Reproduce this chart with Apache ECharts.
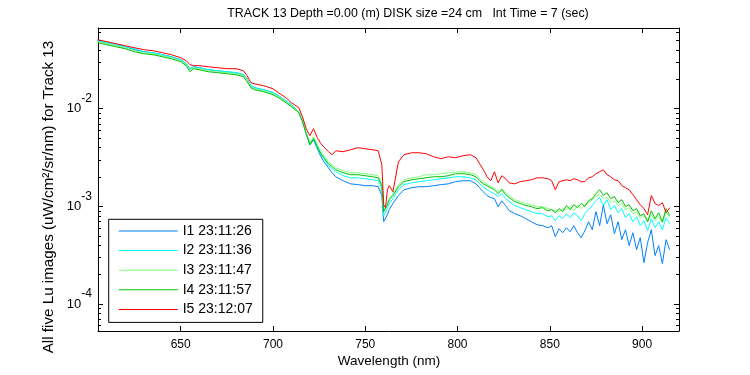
<!DOCTYPE html>
<html>
<head>
<meta charset="utf-8">
<script src="https://cdn.jsdelivr.net/npm/echarts@6/dist/echarts.min.js"></script>
<style>
html,body{margin:0;padding:0;background:#fff;}
#chart{width:750px;height:375px;}
</style>
</head>
<body>
<div id="chart"></div>
<script>
const wavelengths = [605,610,615,620,625,630,635,640,645,650,653,655,657,660,665,670,675,680,684,686,688,690,695,700,703,707,710,714,716,718,720,722,724,726,728,730,732,734,738,742,746,750,754,757,759,760,761,762,763,765,768,771,775,779,783,787,791,795,799,803,807,810,812,814,816,818,820,822,824,826,828,831,834,837,840,843,846,849,851,853,855,857,859,861,863,865,867,869,871,873,875,877,879,881,883,885,887,889,891,893,895,897,899,901,903,905,907,909,911,913,915];

const I1 = [0.0497,0.0474,0.0452,0.0431,0.0402,0.0383,0.0375,0.0357,0.0341,0.0318,
0.0289,0.0257,0.0269,0.0263,0.0251,0.0245,0.0239,0.0234,0.0223,0.0203,
0.0172,0.0164,0.01566,0.01459,0.01359,0.01207,0.01099,0.00932,0.00754,0.00555,
0.00428,0.00482,0.00389,0.00322,0.00280,0.00249,0.00221,0.00201,0.00183,0.00170,
0.00167,0.00163,0.00163,0.00159,0.00129,0.000696,0.000664,0.000821,0.000924,0.00107,
0.00129,0.00148,0.00155,0.00159,0.00159,0.00163,0.00167,0.00170,0.00179,0.00183,
0.00183,0.00170,0.00155,0.00141,0.00129,0.00123,0.00120,0.000994,0.00114,0.00102,
0.000903,0.000841,0.000802,0.000747,0.000696,0.000649,0.000634,0.000604,0.000634,0.000489,
0.000590,0.000537,0.000604,0.000550,0.000634,0.000537,0.000478,0.000563,0.000696,0.000577,
0.000882,0.000634,0.00104,0.000664,0.000821,0.000525,0.000696,0.000456,0.000577,0.000396,
0.000537,0.000360,0.000478,0.000265,0.000425,0.000577,0.000313,0.000396,0.000259,0.000456,0.000360];

const I2 = [0.0497,0.0474,0.0452,0.0431,0.0412,0.0383,0.0375,0.0357,0.0341,0.0318,
0.0289,0.0257,0.0269,0.0263,0.0251,0.0245,0.0239,0.0234,0.0223,0.0203,
0.0172,0.0164,0.01566,0.01459,0.01359,0.01207,0.01099,0.00932,0.00754,0.00568,
0.00438,0.00493,0.00399,0.00338,0.00300,0.00261,0.00243,0.00226,0.00206,0.00196,
0.00196,0.00192,0.00187,0.00183,0.00152,0.000802,0.000783,0.000948,0.00107,0.00120,
0.00148,0.00167,0.00174,0.00179,0.00183,0.00187,0.00192,0.00196,0.00201,0.00201,
0.00196,0.00187,0.00170,0.00159,0.00148,0.00141,0.00135,0.00126,0.00135,0.00120,
0.00112,0.00102,0.000970,0.000924,0.000882,0.000841,0.000841,0.000783,0.000802,0.000713,
0.000802,0.000747,0.000841,0.000765,0.000861,0.000802,0.000713,0.000841,0.000924,0.00102,
0.00114,0.00123,0.00102,0.00117,0.000924,0.00102,0.000861,0.000948,0.000765,0.000841,
0.000696,0.000783,0.000634,0.000713,0.000563,0.000747,0.000604,0.000696,0.000577,0.000765,0.000664];

const I3 = [0.0486,0.0463,0.0442,0.0421,0.0393,0.0375,0.0366,0.0349,0.0333,0.0310,
0.0282,0.0251,0.0263,0.0257,0.0245,0.0239,0.0234,0.0228,0.0218,0.0198,
0.0168,0.0160,0.01530,0.01425,0.01327,0.01179,0.01073,0.00932,0.00754,0.00568,
0.00449,0.00517,0.00428,0.00363,0.00322,0.00287,0.00267,0.00249,0.00232,0.00221,
0.00221,0.00216,0.00211,0.00206,0.00170,0.000924,0.000903,0.00107,0.00120,0.00135,
0.00167,0.00187,0.00196,0.00201,0.00211,0.00211,0.00216,0.00221,0.00226,0.00226,
0.00221,0.00211,0.00192,0.00179,0.00170,0.00159,0.00155,0.00141,0.00152,0.00138,
0.00129,0.00117,0.00112,0.00107,0.00104,0.000994,0.000994,0.000948,0.000924,0.000903,
0.000882,0.000948,0.000924,0.000994,0.000903,0.00102,0.000948,0.00104,0.00109,0.00117,
0.00126,0.00132,0.00120,0.00123,0.00109,0.00114,0.00102,0.00107,0.000924,0.000970,
0.000841,0.000882,0.000765,0.000802,0.000696,0.000821,0.000713,0.000783,0.000680,0.000882,0.000765];

const I4 = [0.0474,0.0452,0.0431,0.0412,0.0383,0.0366,0.0357,0.0341,0.0325,0.0303,
0.0276,0.0239,0.0257,0.0251,0.0239,0.0234,0.0228,0.0223,0.0213,0.0189,
0.0164,0.01566,0.01494,0.01391,0.01296,0.01152,0.01048,0.00910,0.00736,0.00555,
0.00428,0.00493,0.00408,0.00346,0.00308,0.00273,0.00255,0.00237,0.00221,0.00211,
0.00211,0.00206,0.00201,0.00196,0.00163,0.000882,0.000861,0.00104,0.00117,0.00129,
0.00159,0.00179,0.00187,0.00192,0.00196,0.00201,0.00201,0.00206,0.00216,0.00216,
0.00211,0.00201,0.00183,0.00170,0.00163,0.00155,0.00148,0.00135,0.00148,0.00132,
0.00123,0.00112,0.00107,0.00102,0.000994,0.000948,0.000970,0.000903,0.000924,0.000861,
0.000948,0.000882,0.00102,0.000924,0.00104,0.000970,0.00107,0.000994,0.00114,0.00120,
0.00135,0.00148,0.00129,0.00138,0.00120,0.00126,0.00109,0.00117,0.000994,0.00104,
0.000903,0.000948,0.000802,0.000841,0.000696,0.000903,0.000747,0.000861,0.000696,0.000948,0.000802];

const I5 = [0.0509,0.0486,0.0463,0.0442,0.0421,0.0402,0.0393,0.0375,0.0357,0.0333,
0.0310,0.0282,0.0276,0.0276,0.0269,0.0263,0.0257,0.0257,0.0245,0.0218,
0.0185,0.0180,0.0172,0.0160,0.01459,0.01296,0.01152,0.01024,0.00828,0.00624,
0.00529,0.00624,0.00505,0.00438,0.00399,0.00363,0.00338,0.00371,0.00363,0.00380,
0.00399,0.00389,0.00380,0.00371,0.00267,0.00104,0.000970,0.00148,0.00163,0.00141,
0.00287,0.00338,0.00354,0.00354,0.00346,0.00322,0.00308,0.00322,0.00315,0.00330,
0.00338,0.00315,0.00273,0.00237,0.00201,0.00183,0.00226,0.00174,0.00206,0.00192,
0.00174,0.00170,0.00179,0.00183,0.00187,0.00196,0.00196,0.00192,0.00183,0.00148,
0.00179,0.00183,0.00187,0.00183,0.00192,0.00187,0.00179,0.00179,0.00196,0.00201,
0.00216,0.00226,0.00237,0.00211,0.00201,0.00187,0.00183,0.00163,0.00155,0.00148,
0.00132,0.00117,0.00104,0.000948,0.000821,0.00129,0.00107,0.00102,0.00109,0.000861,0.000970];

const seriesNames = ['I1 23:11:26','I2 23:11:36','I3 23:11:47','I4 23:11:57','I5 23:12:07'];
const seriesColors = ['#0080ff','#00ffff','#80ff80','#00c000','#ff0000'];
const xTicks = [650,700,750,800,850,900];
const yMajorTicks = [1e-4,1e-3,1e-2];
const yMinorTicks = [6e-5,7e-5,8e-5,9e-5,2e-4,3e-4,4e-4,5e-4,6e-4,7e-4,8e-4,9e-4,2e-3,3e-3,4e-3,5e-3,6e-3,7e-3,8e-3,9e-3,2e-2,3e-2,4e-2,5e-2,6e-2];
const xRange = [605.2, 920];
const yRange = [5.29e-5, 0.0671];

const titleText = 'TRACK 13 Depth =0.00 (m) DISK size =24 cm   Int Time = 7 (sec)';
const xTitle = 'Wavelength (nm)';
const yTitle = 'All five Lu images (uW/cm\u00B2/sr/nm) for Track 13';

const FONT = 'Liberation Sans, Arial, sans-serif';
const lg = v => Math.log10(v);
const seriesValues = [I1, I2, I3, I4, I5];

const chart = echarts.init(document.getElementById('chart'), null, {renderer: 'canvas'});

const black = {color: '#000', width: 1};
function yAxisDef(pos, major) {
  return {
    type: 'value', position: pos,
    min: lg(yRange[0]), max: lg(yRange[1]),
    axisLine: {show: major, lineStyle: black},
    axisTick: {show: true, inside: true, length: major ? 5 : 3, lineStyle: black,
      customValues: (major ? yMajorTicks : yMinorTicks).map(lg)},
    axisLabel: (major && pos === 'left') ? {
      show: true, margin: 6, customValues: yMajorTicks.map(lg),
      formatter: v => '{b|10}{e|' + Math.round(v) + '}',
      rich: {
        b: {fontFamily: FONT, fontSize: 13, color: '#000'},
        e: {fontFamily: FONT, fontSize: 12, color: '#000', padding: [0, 0, 20, 0]}
      }
    } : {show: false},
    splitLine: {show: false}
  };
}
function xAxisDef(pos) {
  return {
    type: 'value', position: pos,
    min: xRange[0], max: xRange[1],
    axisLine: {show: true, onZero: false, lineStyle: black},
    axisTick: {show: true, inside: true, length: 5, lineStyle: black, customValues: xTicks},
    axisLabel: pos === 'bottom' ? {show: true, margin: 8, customValues: xTicks,
      fontFamily: FONT, fontSize: 12, color: '#000'} : {show: false},
    splitLine: {show: false}
  };
}

const option = {
  animation: false,
  backgroundColor: '#fff',
  grid: {left: 98, top: 28, width: 581, height: 303, containLabel: false},
  xAxis: [xAxisDef('bottom'), xAxisDef('top')],
  yAxis: [yAxisDef('left', true), yAxisDef('right', true), yAxisDef('left', false), yAxisDef('right', false)],
  legend: {
    orient: 'vertical', left: 108.7, top: 219.3,
    data: seriesNames,
    icon: 'rect', itemWidth: 59, itemHeight: 1, itemGap: 5.6,
    padding: [4.7, 10, 6, 10],
    borderColor: '#000', borderWidth: 1, backgroundColor: '#fff',
    textStyle: {fontFamily: FONT, fontSize: 14, color: '#000', lineHeight: 14},
    selectedMode: false
  },
  graphic: [
    {type: 'text', x: 408, y: 14, style: {text: titleText, font: '12.4px ' + FONT, fill: '#000', textAlign: 'center', textVerticalAlign: 'middle'}},
    {type: 'text', x: 389, y: 361, style: {text: xTitle, font: '13.5px ' + FONT, fill: '#000', textAlign: 'center', textVerticalAlign: 'middle'}},
    {type: 'text', x: 49, y: 197, rotation: Math.PI / 2, style: {text: yTitle, font: '15.2px ' + FONT, fill: '#000', textAlign: 'center', textVerticalAlign: 'middle'}}
  ],
  series: seriesValues.map((vals, k) => ({
    type: 'line', name: seriesNames[k],
    xAxisIndex: 0, yAxisIndex: 0,
    showSymbol: false, symbol: 'none',
    lineStyle: {color: seriesColors[k], width: 1},
    itemStyle: {color: seriesColors[k]},
    data: wavelengths.map((w, i) => [w, lg(vals[i])])
  }))
};
chart.setOption(option);
</script>
</body>
</html>
